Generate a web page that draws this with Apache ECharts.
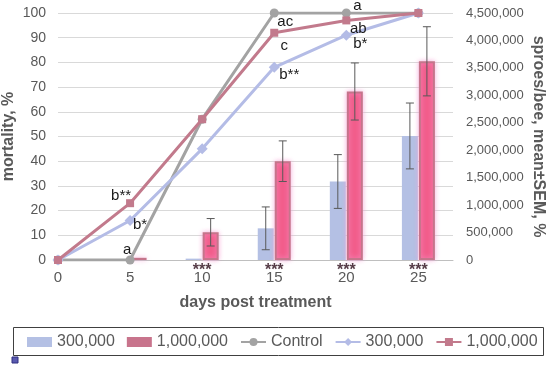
<!DOCTYPE html>
<html>
<head>
<meta charset="utf-8">
<script src="https://cdn.jsdelivr.net/npm/echarts@6/dist/echarts.min.js"></script>
<style>
html,body{margin:0;padding:0;background:#fff;}
#chart{width:550px;height:365px;}
</style>
</head>
<body>
<div id="chart"></div>
<script>
// ---- data ----
const days = [0, 5, 10, 15, 20, 25];
const mortControl = [0, 0, 57, 100, 100, 100];
const mort300k = [0, 16, 45, 78, 91, 100];
const mort1M = [0, 23, 57, 92, 97, 100];
const sigControl = ['', 'a', '', 'ac', 'a', ''];
const sig300k = ['', 'b*', '', 'b**', 'b*', ''];
const sig1M = ['', 'b**', '', 'c', 'ab', ''];

const barDays = [5, 10, 15, 20, 25];
const spores300k = [0, 25000, 577000, 1430000, 2260000];
const sem300k = [0, 0, 390000, 490000, 600000];
const spores1M = [40000, 505000, 1800000, 3070000, 3620000];
const sem1M = [0, 250000, 370000, 520000, 630000];
const barStars = ['', '***', '***', '***', '***'];

const legendNames = {
  b300: '300,000', b1M: '1,000,000', ctrl: 'Control', l300: '300,000', l1M: '1,000,000'
};

// ---- styles ----
const FONT = '"Liberation Sans", Arial, sans-serif';
const TXT = '#595959';
const BAR_W = 16, BAR_GAP_PX = 1;
const labelOffsets = {
  ctrl: {1: [-3, -10], 3: [11, 9], 4: [11, -7]},
  l300: {1: [10, 4], 3: [15, 8], 4: [14, 9]},
  l1M: {1: [-9, -7], 3: [10, 13], 4: [12, 8]}
};

function lineData(vals, sigs, key) {
  return days.map((d, i) => {
    const item = {value: [d, vals[i]]};
    if (sigs[i]) {
      item.label = {
        show: true, formatter: sigs[i], position: 'inside',
        offset: labelOffsets[key][i], color: '#1a1a1a', fontSize: 15, fontFamily: FONT
      };
    }
    return item;
  });
}

function errSeries(means, sems, shift) {
  return {
    type: 'custom', xAxisIndex: 0, yAxisIndex: 1, z: 5, silent: true,
    data: barDays.map((d, i) => [d, means[i], sems[i]]),
    renderItem: function (params, api) {
      const x = api.value(0), m = api.value(1), s = api.value(2);
      if (!s) return null;
      const top = api.coord([x, m + s]);
      const bot = api.coord([x, m - s]);
      const cx = top[0] + shift;
      const cap = 4;
      const st = {stroke: '#595959', lineWidth: 1};
      return {
        type: 'group',
        children: [
          {type: 'line', shape: {x1: cx, y1: top[1], x2: cx, y2: bot[1]}, style: st},
          {type: 'line', shape: {x1: cx - cap, y1: top[1], x2: cx + cap, y2: top[1]}, style: st},
          {type: 'line', shape: {x1: cx - cap, y1: bot[1], x2: cx + cap, y2: bot[1]}, style: st}
        ]
      };
    }
  };
}

const chart = echarts.init(document.getElementById('chart'), null, {renderer: 'canvas'});
const off = BAR_W / 2 + BAR_GAP_PX / 2;

chart.setOption({
  animation: false,
  backgroundColor: '#ffffff',
  textStyle: {fontFamily: FONT},
  grid: {left: 58, right: 97, top: 13, bottom: 105, containLabel: false, outerBoundsMode: 'none'},
  graphic: [
    {type: 'rect', shape: {x: 13.5, y: 327.5, width: 530, height: 28},
     style: {fill: 'none', stroke: '#404040', lineWidth: 1}, z: 10},
    {type: 'rect', shape: {x: 12, y: 357, width: 6, height: 6},
     style: {fill: '#5a5ab0', stroke: '#2e2e80', lineWidth: 1}, z: 10}
  ],
  legend: {
    left: 27, top: 334, padding: 0, itemGap: 12, itemWidth: 25, itemHeight: 10,
    textStyle: {color: TXT, fontSize: 16, fontFamily: FONT},
    formatter: n => legendNames[n],
    data: [
      {name: 'b300', icon: 'rect', itemStyle: {color: '#b4c0e4', borderWidth: 0, shadowBlur: 0}},
      {name: 'b1M', icon: 'rect', itemStyle: {color: '#c8748c', borderWidth: 0, shadowBlur: 0}},
      {name: 'ctrl'}, {name: 'l300'}, {name: 'l1M'}
    ]
  },
  xAxis: {
    type: 'value', min: 0, max: 27.4, interval: 5,
    name: 'days post treatment', nameLocation: 'middle', nameGap: 35, nameMoveOverlap: false,
    nameTextStyle: {color: TXT, fontSize: 16, fontWeight: 'bold', fontFamily: FONT},
    axisLine: {show: true, lineStyle: {color: '#bfbfbf', width: 1}},
    axisTick: {show: false},
    splitLine: {show: false},
    axisLabel: {color: TXT, fontSize: 15, margin: 10, showMaxLabel: false, fontFamily: FONT}
  },
  yAxis: [
    {
      type: 'value', min: 0, max: 100, interval: 10,
      name: 'mortality, %', nameLocation: 'middle', nameGap: 41, nameMoveOverlap: false,
      nameTextStyle: {color: TXT, fontSize: 16, fontWeight: 'bold', fontFamily: FONT},
      axisLine: {show: false}, axisTick: {show: false},
      splitLine: {show: true, lineStyle: {color: '#d9d9d9', width: 1}},
      axisLabel: {color: TXT, fontSize: 14, margin: 12, fontFamily: FONT}
    },
    {
      type: 'value', min: 0, max: 4500000, interval: 500000, position: 'right',
      name: 'sproes/bee, mean±SEM, %', nameLocation: 'middle', nameGap: 77, nameRotate: -90,
      nameMoveOverlap: false,
      nameTextStyle: {color: TXT, fontSize: 16, fontWeight: 'bold', fontFamily: FONT},
      axisLine: {show: false}, axisTick: {show: false},
      splitLine: {show: false},
      axisLabel: {color: TXT, fontSize: 13, margin: 13, fontFamily: FONT,
        formatter: v => v.toLocaleString('en-US')}
    }
  ],
  series: [
    {
      name: 'b300', type: 'bar', yAxisIndex: 1, barWidth: BAR_W, barGap: (BAR_GAP_PX / BAR_W * 100) + '%',
      itemStyle: {color: '#b4c0e4'},
      data: barDays.map((d, i) => [d, spores300k[i]]), z: 2
    },
    {
      name: 'b1M', type: 'bar', yAxisIndex: 1, barWidth: BAR_W,
      itemStyle: {color: '#f25d8b', borderColor: '#c5758b', borderWidth: 2,
        shadowColor: 'rgba(248,160,215,0.8)', shadowBlur: 5},
      data: barDays.map((d, i) => [d, spores1M[i]]), z: 2
    },
    errSeries(spores300k, sem300k, -off),
    errSeries(spores1M, sem1M, off),
    {
      type: 'scatter', yAxisIndex: 1, symbolSize: 0, silent: true, z: 6,
      data: barDays.map((d, i) => ({value: [d, 0],
        label: {show: !!barStars[i], formatter: barStars[i], position: 'inside', offset: [0, 11],
          color: '#2a0a18', fontSize: 16, fontWeight: 'bold', fontFamily: FONT}}))
    },
    {
      name: 'ctrl', type: 'line', yAxisIndex: 0, symbol: 'circle', symbolSize: 9,
      lineStyle: {color: '#a3a3a3', width: 3}, itemStyle: {color: '#a3a3a3'},
      data: lineData(mortControl, sigControl, 'ctrl'), z: 7
    },
    {
      name: 'l300', type: 'line', yAxisIndex: 0, symbol: 'diamond', symbolSize: 11,
      lineStyle: {color: '#b4bce6', width: 3}, itemStyle: {color: '#b4bce6'},
      data: lineData(mort300k, sig300k, 'l300'), z: 8
    },
    {
      name: 'l1M', type: 'line', yAxisIndex: 0, symbol: 'rect', symbolSize: 8,
      lineStyle: {color: '#c27a8c', width: 3}, itemStyle: {color: '#c27a8c'},
      data: lineData(mort1M, sig1M, 'l1M'), z: 9
    }
  ]
});
</script>
</body>
</html>
